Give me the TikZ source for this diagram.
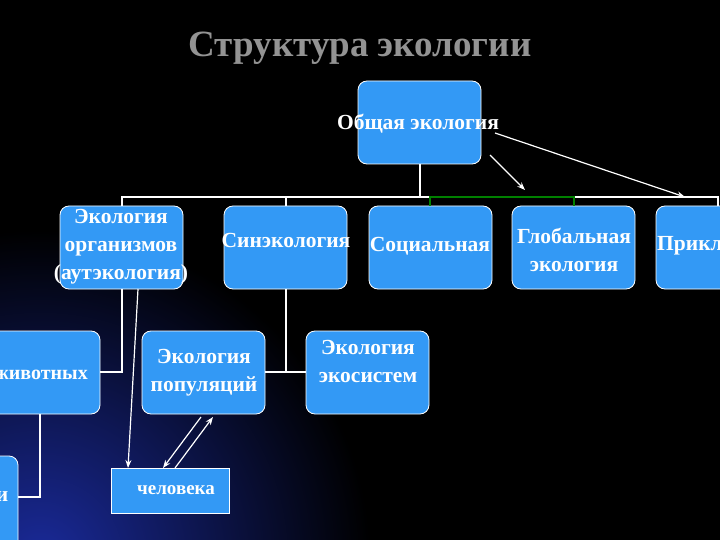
\documentclass[tikz,border=0pt]{standalone}
\usepackage{fontspec}
\setmainfont{Liberation Serif}
\usetikzlibrary{arrows.meta}
\definecolor{boxblue}{HTML}{3399F5}
\definecolor{bgblue}{HTML}{1A2A9A}
\begin{document}
\begin{tikzpicture}[x=1pt,y=-1pt,
  bx/.style={draw=white,line width=0.8pt,fill=boxblue,rounded corners=9pt},
  lbl/.style={text=white,font=\bfseries\fontsize{21.5}{28}\selectfont,align=center,inner sep=0pt},
  ln/.style={white,line width=1.3pt},
  arr/.style={white,line width=1.2pt,-{Stealth[length=8pt,width=6pt]}}]
\path[clip] (0,0) rectangle (720,540);
\fill[black] (0,0) rectangle (720,540);
\shade[inner color=bgblue,outer color=black] (40,560) circle (330);
\useasboundingbox (0,0) rectangle (720,540);
\node[lbl,text=gray!85,font=\bfseries\fontsize{37}{40}\selectfont] (title) at (360,48) {Структура экологии};
% boxes
\draw[bx] (358,81) rectangle (481,164);
\node[lbl] (gen) at (418,124) {Общая экология};
\draw[bx] (60,206) rectangle (183,289);
\node[lbl] (org) at (121,247) {Экология\\организмов\\(аутэкология)};
\draw[bx] (224,206) rectangle (347,289);
\node[lbl] (syn) at (286,240) {Синэкология};
\draw[bx] (369,206) rectangle (492,289);
\node[lbl] (soc) at (430,246) {Социальная};
\draw[bx] (512,206) rectangle (635,289);
\node[lbl] (glob) at (574,250) {Глобальная\\экология};
\draw[bx] (656,206) rectangle (780,289);
\node[lbl,anchor=west] (appl) at (657,246) {Прикладная};
\draw[bx] (-40,331) rectangle (100,414);
\node[lbl,font=\bfseries\fontsize{20}{24}\selectfont,anchor=east] (anim) at (88,375) {животных};
\draw[bx] (142,331) rectangle (265,414);
\node[lbl] (pop) at (204,373) {Экология\\популяций};
\draw[bx] (306,331) rectangle (429,414);
\node[lbl] (eco) at (368,361) {Экология\\экосистем};
\draw[bx] (-60,456) rectangle (18,560);
\node[lbl] (plant) at (2,497) {и};
\draw[draw=white,line width=0.8pt,fill=boxblue] (111,468) rectangle (229,513);
\node[lbl,font=\bfseries\fontsize{19}{22}\selectfont] (hum) at (176,490) {человека};
% coordinates
\coordinate (gb) at (420,164); \coordinate (bus) at (420,197);
% lines
\draw[ln] (gb) -- (bus);
\draw[ln] (122,206) -- (122,197) -- (718,197) -- (718,206);
\draw[ln] (286,197) -- (286,206);
\draw[green!50!black,line width=1.3pt] (430,206) -- (430,197) -- (574,197) -- (574,206);
\draw[ln] (122,289) -- (122,372) -- (100,372);
\draw[ln] (286,289) -- (286,372);
\draw[ln] (265,372) -- (306,372);
\draw[ln] (40,414) -- (40,497) -- (18,497);
% arrows
\draw[arr] (138,289) -- (128,468);
\draw[arr] (201,417) -- (163,468);
\draw[arr] (175,468) -- (213,417);
\draw[arr] (490,155) -- (525,190);
\draw[arr] (495,133) -- (685,197);
\end{tikzpicture}
\end{document}
